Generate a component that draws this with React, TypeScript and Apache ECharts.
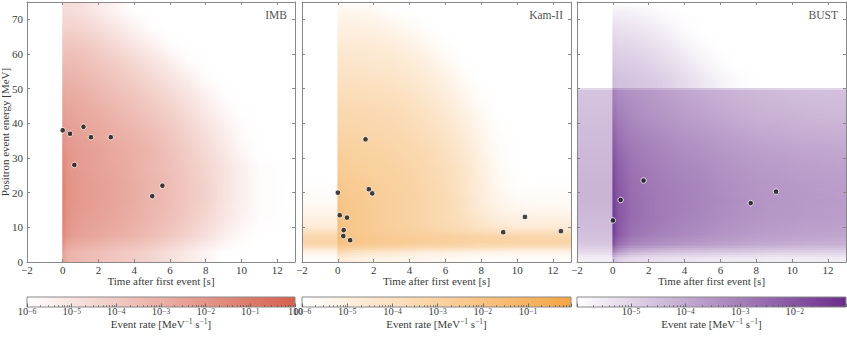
import React, { useEffect, useRef } from 'react';
import * as echarts from 'echarts';

// ---------- data ----------
// time sample points [s] of the model rate maps (columns of the rate tables)
const TIME_STOPS = [-2, -0.05, 0, 0.3, 1, 2, 3, 4, 5, 6, 7, 8, 9, 10, 11, 13];

// IMB: sampled positron energies [MeV] (rows) and log10 event rate [MeV^-1 s^-1]
const IMB_E_SAMPLES = [2.5, 7.5, 12.5, 17.5, 22.5, 27.5, 32.5, 37.5, 42.5, 47.5, 52.5, 57.5, 62.5, 67.5, 72.5];
const IMB_LOG_RATE = [
  [-7, -7, -2.4, -3.1, -3.4, -3.6, -3.9, -4.1, -4.4, -4.8, -5.2, -5.6, -6.2, -7, -7, -7],
  [-7, -7, -1.5, -2.2, -2.5, -2.7, -3.0, -3.2, -3.5, -3.9, -4.3, -4.8, -5.3, -5.8, -7, -7],
  [-7, -7, -1.3, -2.0, -2.3, -2.5, -2.7, -3.0, -3.3, -3.6, -4.0, -4.5, -5.0, -5.5, -5.9, -7],
  [-7, -7, -1.3, -1.9, -2.2, -2.4, -2.6, -2.9, -3.2, -3.5, -3.9, -4.3, -4.9, -5.4, -5.85, -7],
  [-7, -7, -1.3, -1.9, -2.2, -2.4, -2.6, -2.9, -3.2, -3.5, -3.9, -4.3, -4.9, -5.4, -5.85, -7],
  [-7, -7, -1.5, -2.0, -2.3, -2.5, -2.7, -3.0, -3.3, -3.6, -4.0, -4.4, -4.9, -5.4, -5.9, -7],
  [-7, -7, -1.7, -2.1, -2.3, -2.5, -2.8, -3.0, -3.3, -3.7, -4.1, -4.6, -5.1, -5.7, -7, -7],
  [-7, -7, -2.0, -2.3, -2.5, -2.7, -3.0, -3.2, -3.5, -3.9, -4.3, -4.8, -5.3, -5.85, -7, -7],
  [-7, -7, -2.3, -2.5, -2.7, -2.9, -3.2, -3.5, -3.8, -4.2, -4.6, -5.1, -5.6, -5.95, -7, -7],
  [-7, -7, -2.6, -2.8, -2.9, -3.2, -3.5, -3.8, -4.1, -4.5, -4.9, -5.4, -5.9, -7, -7, -7],
  [-7, -7, -3.0, -3.1, -3.2, -3.5, -3.8, -4.1, -4.5, -4.9, -5.3, -5.85, -7, -7, -7, -7],
  [-7, -7, -3.4, -3.4, -3.5, -3.8, -4.1, -4.5, -4.9, -5.3, -5.85, -7, -7, -7, -7, -7],
  [-7, -7, -3.8, -3.8, -3.9, -4.2, -4.6, -5.0, -5.4, -5.9, -7, -7, -7, -7, -7, -7],
  [-7, -7, -4.3, -4.3, -4.4, -4.7, -5.1, -5.5, -5.95, -7, -7, -7, -7, -7, -7, -7],
  [-7, -7, -4.7, -4.7, -4.8, -5.2, -5.6, -5.95, -7, -7, -7, -7, -7, -7, -7, -7],
];

// Kam-II
const KAM_E_SAMPLES = [1, 2.75, 4.25, 5.75, 7.25, 8.75, 10.25, 12, 14, 16.25, 18.75, 21.25, 23.75, 27.5, 32.5, 37.5, 42.5, 47.5, 52.5, 57.5, 62.5, 67.5, 72.5, 75];
const KAM_LOG_RATE = [
  [-5.8, -5.8, -4.5, -4.8, -5.0, -5.2, -5.3, -5.4, -5.5, -5.6, -5.7, -5.8, -5.8, -5.8, -5.8, -5.8],
  [-5.3, -5.3, -3.5, -3.8, -4.1, -4.3, -4.5, -4.7, -4.9, -5.0, -5.1, -5.2, -5.3, -5.3, -5.3, -5.3],
  [-3.9, -3.9, -2.3, -2.6, -2.8, -3.0, -3.1, -3.3, -3.4, -3.5, -3.6, -3.7, -3.8, -3.9, -3.9, -3.9],
  [-3.1, -3.1, -1.7, -2.0, -2.2, -2.4, -2.5, -2.6, -2.7, -2.8, -2.9, -3.0, -3.0, -3.1, -3.1, -3.1],
  [-3.3, -3.3, -1.7, -2.0, -2.2, -2.4, -2.5, -2.7, -2.8, -2.9, -3.0, -3.1, -3.2, -3.3, -3.3, -3.3],
  [-4.0, -4.0, -1.8, -2.1, -2.4, -2.6, -2.7, -2.9, -3.1, -3.3, -3.5, -3.7, -3.9, -4.0, -4.0, -4.0],
  [-4.7, -4.7, -1.8, -2.1, -2.4, -2.6, -2.8, -3.0, -3.2, -3.5, -3.8, -4.2, -4.5, -4.7, -4.7, -4.7],
  [-5.0, -5.0, -1.8, -2.1, -2.4, -2.6, -2.8, -3.0, -3.3, -3.6, -3.9, -4.4, -4.8, -5.0, -5.0, -5.0],
  [-5.3, -5.3, -1.8, -2.1, -2.4, -2.6, -2.8, -3.0, -3.3, -3.6, -4.0, -4.6, -5.1, -5.3, -5.3, -5.3],
  [-5.6, -5.6, -1.9, -2.2, -2.4, -2.6, -2.8, -3.0, -3.3, -3.6, -4.1, -4.7, -5.3, -5.5, -5.6, -5.6],
  [-5.8, -5.8, -2.0, -2.3, -2.5, -2.7, -2.8, -3.0, -3.3, -3.6, -4.1, -4.8, -5.4, -5.7, -5.8, -5.8],
  [-5.9, -5.9, -2.1, -2.4, -2.5, -2.7, -2.9, -3.1, -3.3, -3.7, -4.2, -4.8, -5.5, -5.9, -5.9, -5.9],
  [-7, -7, -2.3, -2.5, -2.6, -2.8, -2.9, -3.1, -3.4, -3.7, -4.2, -4.9, -5.6, -5.95, -7, -7],
  [-7, -7, -2.5, -2.7, -2.8, -2.9, -3.0, -3.2, -3.5, -3.8, -4.3, -5.0, -5.7, -7, -7, -7],
  [-7, -7, -2.8, -2.9, -3.0, -3.1, -3.2, -3.4, -3.6, -4.0, -4.5, -5.2, -5.8, -7, -7, -7],
  [-7, -7, -3.1, -3.2, -3.2, -3.3, -3.4, -3.6, -3.9, -4.2, -4.7, -5.4, -5.9, -7, -7, -7],
  [-7, -7, -3.4, -3.4, -3.4, -3.5, -3.6, -3.8, -4.1, -4.5, -5.0, -5.6, -7, -7, -7, -7],
  [-7, -7, -3.7, -3.7, -3.7, -3.8, -3.9, -4.1, -4.4, -4.8, -5.3, -5.9, -7, -7, -7, -7],
  [-7, -7, -4.0, -4.0, -4.0, -4.1, -4.2, -4.4, -4.7, -5.1, -5.7, -7, -7, -7, -7, -7],
  [-7, -7, -4.3, -4.3, -4.3, -4.4, -4.5, -4.7, -5.0, -5.5, -5.95, -7, -7, -7, -7, -7],
  [-7, -7, -4.6, -4.6, -4.6, -4.7, -4.8, -5.1, -5.5, -5.9, -7, -7, -7, -7, -7, -7],
  [-7, -7, -5.0, -5.0, -5.0, -5.1, -5.3, -5.6, -5.95, -7, -7, -7, -7, -7, -7, -7],
  [-7, -7, -5.5, -5.4, -5.4, -5.6, -5.9, -7, -7, -7, -7, -7, -7, -7, -7, -7],
  [-7, -7, -7, -7, -7, -7, -7, -7, -7, -7, -7, -7, -7, -7, -7, -7],
];

// BUST
const BUST_E_SAMPLES = [1, 3, 5, 8, 12.5, 17.5, 22.5, 27.5, 32.5, 37.5, 42.5, 49.7, 50.3, 52.5, 57.5, 62.5, 67.5, 72.5, 75];
const BUST_LOG_RATE = [
  [-5.6, -5.6, -4.41, -4.9, -5.15, -5.25, -5.3, -5.35, -5.4, -5.45, -5.5, -5.5, -5.55, -5.55, -5.55, -5.55],
  [-5.1, -5.1, -2.93, -3.62, -4.12, -4.36, -4.46, -4.56, -4.61, -4.66, -4.71, -4.76, -4.81, -4.86, -4.86, -4.9],
  [-4.71, -4.71, -1.95, -2.64, -3.13, -3.33, -3.48, -3.57, -3.67, -3.77, -3.87, -3.97, -4.02, -4.07, -4.12, -4.17],
  [-4.51, -4.51, -1.45, -2.15, -2.69, -2.93, -3.08, -3.23, -3.33, -3.48, -3.57, -3.67, -3.72, -3.77, -3.82, -3.87],
  [-4.36, -4.36, -1.36, -2.05, -2.54, -2.78, -2.93, -3.08, -3.18, -3.33, -3.43, -3.52, -3.57, -3.62, -3.67, -3.72],
  [-4.26, -4.26, -1.45, -2.05, -2.54, -2.78, -2.93, -3.03, -3.13, -3.28, -3.38, -3.48, -3.52, -3.57, -3.62, -3.67],
  [-4.26, -4.26, -1.6, -2.15, -2.59, -2.83, -2.98, -3.08, -3.18, -3.33, -3.43, -3.52, -3.57, -3.62, -3.67, -3.72],
  [-4.31, -4.31, -1.8, -2.29, -2.69, -2.93, -3.08, -3.18, -3.28, -3.43, -3.52, -3.62, -3.67, -3.72, -3.77, -3.82],
  [-4.36, -4.36, -2.05, -2.49, -2.83, -3.03, -3.18, -3.33, -3.43, -3.57, -3.67, -3.77, -3.82, -3.87, -3.92, -3.97],
  [-4.41, -4.41, -2.34, -2.74, -3.03, -3.23, -3.38, -3.52, -3.62, -3.77, -3.87, -3.97, -4.02, -4.07, -4.12, -4.17],
  [-4.51, -4.51, -2.69, -2.98, -3.23, -3.43, -3.57, -3.72, -3.82, -3.97, -4.07, -4.17, -4.22, -4.26, -4.31, -4.36],
  [-4.61, -4.61, -3.03, -3.28, -3.48, -3.62, -3.77, -3.92, -4.07, -4.17, -4.26, -4.36, -4.41, -4.46, -4.51, -4.51],
  [-7, -7, -4.41, -4.51, -4.61, -4.71, -4.9, -5.15, -5.4, -5.69, -5.89, -7, -7, -7, -7, -7],
  [-7, -7, -4.41, -4.51, -4.61, -4.71, -4.9, -5.15, -5.4, -5.69, -5.89, -7, -7, -7, -7, -7],
  [-7, -7, -4.66, -4.76, -4.81, -4.95, -5.15, -5.4, -5.69, -5.89, -7, -7, -7, -7, -7, -7],
  [-7, -7, -4.9, -5.0, -5.05, -5.2, -5.4, -5.69, -5.89, -7, -7, -7, -7, -7, -7, -7],
  [-7, -7, -5.25, -5.3, -5.35, -5.5, -5.69, -5.89, -7, -7, -7, -7, -7, -7, -7, -7],
  [-7, -7, -5.64, -5.64, -5.69, -5.79, -5.94, -7, -7, -7, -7, -7, -7, -7, -7, -7],
  [-7, -7, -7, -7, -7, -7, -7, -7, -7, -7, -7, -7, -7, -7, -7, -7],
];

// observed events: time after first event [s], positron energy [MeV]
const IMB_EVENT_T = [0, 0.41, 0.65, 1.16, 1.58, 2.69, 5.01, 5.58];
const IMB_EVENT_E = [38, 37, 28, 39, 36, 36, 19, 22];
const KAM_EVENT_T = [0, 0.107, 0.303, 0.324, 0.507, 0.686, 1.541, 1.728, 1.915, 9.219, 10.433, 12.439];
const KAM_EVENT_E = [20, 13.5, 7.5, 9.2, 12.8, 6.3, 35.4, 21, 19.8, 8.6, 13, 8.9];
const BUST_EVENT_T = [0, 0.435, 1.71, 7.687, 9.099];
const BUST_EVENT_E = [12, 17.9, 23.5, 17.0, 20.3];

// colour-scale limits (log10 of event rate)
const IMB_LOG_RANGE = [-6, 0];
const KAM_LOG_RANGE = [-6, -0.05];
const BUST_LOG_RANGE = [-5.99, -1.06];

// ---------- styling ----------
const FONT = 'Liberation Serif, DejaVu Serif, serif';
const TXT = '#3a3a3a';
const FRAME = '#888888';
const E_MAX = 75;

const PANELS = [
  { name: 'IMB', left: 27, width: 268, eS: IMB_E_SAMPLES, rates: IMB_LOG_RATE, range: IMB_LOG_RANGE, rgb: [214, 96, 77], tEv: IMB_EVENT_T, eEv: IMB_EVENT_E },
  { name: 'Kam-II', left: 302, width: 269, eS: KAM_E_SAMPLES, rates: KAM_LOG_RATE, range: KAM_LOG_RANGE, rgb: [244, 165, 70], tEv: KAM_EVENT_T, eEv: KAM_EVENT_E },
  { name: 'BUST', left: 577, width: 269, eS: BUST_E_SAMPLES, rates: BUST_LOG_RATE, range: BUST_LOG_RANGE, rgb: [106, 44, 140], tEv: BUST_EVENT_T, eEv: BUST_EVENT_E },
];

function mixRgb(rgb: number[], f: number) {
  return rgb.map((v) => 255 + (v - 255) * f);
}
function rgbStr(c: number[]) {
  return `rgb(${Math.round(c[0])},${Math.round(c[1])},${Math.round(c[2])})`;
}
function cmapRgb(v: number, range: number[], rgb: number[]) {
  const f = Math.min(1, Math.max(0, (v - range[0]) / (range[1] - range[0])));
  return mixRgb(rgb, f);
}
const fmtNum = (v: number) => (v < 0 ? '\u2212' + Math.abs(v) : String(v));

function buildOption() {
  const grid: any[] = [];
  const xAxis: any[] = [];
  const yAxis: any[] = [];
  const series: any[] = [];
  const title: any[] = [];
  const tickStyle = { inside: true, length: 3, lineStyle: { color: FRAME, width: 1 } };
  const lineStyle = { show: true, onZero: false, lineStyle: { color: FRAME, width: 1 } };
  const labelStyle = { color: TXT, fontFamily: FONT, fontSize: 11 };

  PANELS.forEach((p, k) => {
    grid.push({ left: p.left, top: 2, width: p.width, height: 260, outerBoundsMode: 'none' });
    xAxis.push({
      gridIndex: k, type: 'value', min: -2, max: 13, interval: 2, position: 'bottom', z: 5,
      axisLine: lineStyle, axisTick: tickStyle, splitLine: { show: false },
      axisLabel: { ...labelStyle, margin: 3, lineHeight: 9, showMaxLabel: false, formatter: fmtNum },
      name: 'Time after first event [s]', nameLocation: 'middle', nameGap: 13, nameMoveOverlap: false,
      nameTextStyle: { ...labelStyle, lineHeight: 11 },
    });
    xAxis.push({
      gridIndex: k, type: 'value', min: -2, max: 13, interval: 2, position: 'top', z: 5,
      axisLine: lineStyle, axisTick: tickStyle, splitLine: { show: false }, axisLabel: { show: false },
    });
    yAxis.push({
      gridIndex: k, type: 'value', min: 0, max: E_MAX, interval: 10, position: 'left', z: 5,
      axisLine: lineStyle, axisTick: tickStyle, splitLine: { show: false },
      axisLabel: { ...labelStyle, show: k === 0, margin: 4, lineHeight: 8, showMaxLabel: false },
      name: k === 0 ? 'Positron event energy [MeV]' : '', nameLocation: 'middle', nameGap: 17,
      nameMoveOverlap: false,
      nameTextStyle: { ...labelStyle, lineHeight: 11 },
    });
    yAxis.push({
      gridIndex: k, type: 'value', min: 0, max: E_MAX, interval: 10, position: 'right', z: 5,
      axisLine: lineStyle, axisTick: tickStyle, splitLine: { show: false }, axisLabel: { show: false },
    });

    // model rate map: the rates sampled at (TIME_STOPS x eS) are shaded smoothly between the samples
    const rowColors = p.rates.map((row) => row.map((v) => cmapRgb(v, p.range, p.rgb)));
    const n = p.eS.length;
    series.push({
      type: 'custom', xAxisIndex: 2 * k, yAxisIndex: 2 * k, clip: true, silent: true, z: 1,
      data: Array.from({ length: n + 1 }, (_v, i) => [i - 1]),
      renderItem: (_params: any, api: any) => {
        const i = api.value(0);
        const eLo = i < 0 ? 0 : p.eS[i];
        const eHi = i >= n - 1 ? E_MAX : p.eS[i + 1];
        if (eHi <= eLo) return null;
        const a = i < 0 ? 0 : i;
        const b = i < 0 ? 0 : i >= n - 1 ? n - 1 : i + 1;
        const lo = api.coord([TIME_STOPS[0], eLo]);
        const hi = api.coord([TIME_STOPS[TIME_STOPS.length - 1], eHi]);
        const x0 = lo[0];
        const x1 = hi[0];
        const offsets = TIME_STOPS.map((t) =>
          Math.min(1, Math.max(0, (api.coord([t, eLo])[0] - x0) / (x1 - x0)))
        );
        const yb = Math.round(lo[1]);
        const yt = Math.round(hi[1]);
        if (yb <= yt) return null;
        const span = lo[1] - hi[1];
        const children: any[] = [];
        for (let y = yb; y > yt; y -= 2) {
          const top = Math.max(y - 2, yt);
          const w = a === b ? 0 : Math.min(1, Math.max(0, (lo[1] - (top + y) / 2) / span));
          const stops = offsets.map((off, j) => {
            const ca = rowColors[a][j];
            const cb = rowColors[b][j];
            return { offset: off, color: rgbStr([0, 1, 2].map((q) => ca[q] + (cb[q] - ca[q]) * w)) };
          });
          children.push({
            type: 'rect',
            shape: { x: x0, y: top, width: x1 - x0, height: y - top },
            style: { fill: new echarts.graphic.LinearGradient(0, 0, 1, 0, stops) },
          });
        }
        return { type: 'group', children };
      },
    });
    series.push({
      type: 'scatter', xAxisIndex: 2 * k, yAxisIndex: 2 * k, z: 10, silent: true,
      symbol: 'circle', symbolSize: 5.5,
      itemStyle: { color: '#151515', borderColor: '#ffffff', borderWidth: 1 },
      data: p.tEv.map((t, i) => [t, p.eEv[i]]),
    });
    title.push({
      text: p.name, right: 847 - (p.left + p.width) + 8, top: 9, padding: 0,
      textStyle: { fontFamily: FONT, fontSize: 11.5, fontWeight: 'normal', color: '#555' },
    });
  });

  // colour bars
  PANELS.forEach((p, k) => {
    const g = 3 + k;
    grid.push({ left: p.left, top: 297, width: p.width, height: 10, outerBoundsMode: 'none' });
    xAxis.push({
      gridIndex: g, type: 'log', logBase: 10, min: Math.pow(10, p.range[0]), max: Math.pow(10, p.range[1]),
      position: 'bottom', z: 5,
      axisLine: { show: false },
      axisTick: { show: true, inside: true, length: 3.5, lineStyle: { color: '#555', width: 0.8 } },
      minorTick: { show: true, splitNumber: 9, length: 2, lineStyle: { color: '#555', width: 0.6 } },
      splitLine: { show: false },
      axisLabel: {
        margin: 0,
        showMinLabel: true, showMaxLabel: true,
        formatter: (v: number) => {
          const l = Math.log10(v);
          const e = Math.round(l);
          if (Math.abs(l - e) > 1e-3) return '';
          return `{b|10}{s|${e < 0 ? '\u2212' : ''}${Math.abs(e)}}`;
        },
        rich: {
          b: { fontFamily: FONT, fontSize: 10.5, color: TXT, verticalAlign: 'bottom', lineHeight: 10 },
          s: { fontFamily: FONT, fontSize: 7.5, color: TXT, verticalAlign: 'top', lineHeight: 7 },
        },
      },
      name: '{n|Event rate [MeV}{s|\u22121}{n| s}{s|\u22121}{n|]}', nameLocation: 'middle', nameGap: 10,
      nameMoveOverlap: false,
      nameTextStyle: {
        rich: {
          n: { fontFamily: FONT, fontSize: 11, color: TXT, verticalAlign: 'bottom', lineHeight: 12 },
          s: { fontFamily: FONT, fontSize: 7.5, color: TXT, verticalAlign: 'top', lineHeight: 7 },
        },
      },
    });
    yAxis.push({ gridIndex: g, type: 'value', min: 0, max: 1, show: false });
    series.push({
      type: 'custom', xAxisIndex: 6 + k, yAxisIndex: 6 + k, silent: true, z: 1,
      data: [[Math.pow(10, p.range[0]), 0]],
      renderItem: (_params: any, api: any) => {
        const a = api.coord([Math.pow(10, p.range[0]), 0]);
        const b = api.coord([Math.pow(10, p.range[1]), 1]);
        return {
          type: 'rect',
          shape: { x: a[0], y: b[1], width: b[0] - a[0], height: a[1] - b[1] },
          style: {
            fill: new echarts.graphic.LinearGradient(0, 0, 1, 0, [
              { offset: 0, color: '#ffffff' },
              { offset: 1, color: rgbStr(p.rgb) },
            ]),
            stroke: FRAME, lineWidth: 1,
          },
        };
      },
    });
  });

  return { animation: false, backgroundColor: '#ffffff', grid, xAxis, yAxis, series, title };
}

export default function App() {
  const ref = useRef<HTMLDivElement>(null);
  useEffect(() => {
    if (!ref.current) return;
    const chart = echarts.init(ref.current, null, { renderer: 'svg' });
    chart.setOption(buildOption() as any);
    return () => chart.dispose();
  }, []);
  return (
    <div
      ref={ref}
      style={{ position: 'absolute', left: 0, top: 0, width: 847, height: 338, background: '#fff' }}
    />
  );
}
